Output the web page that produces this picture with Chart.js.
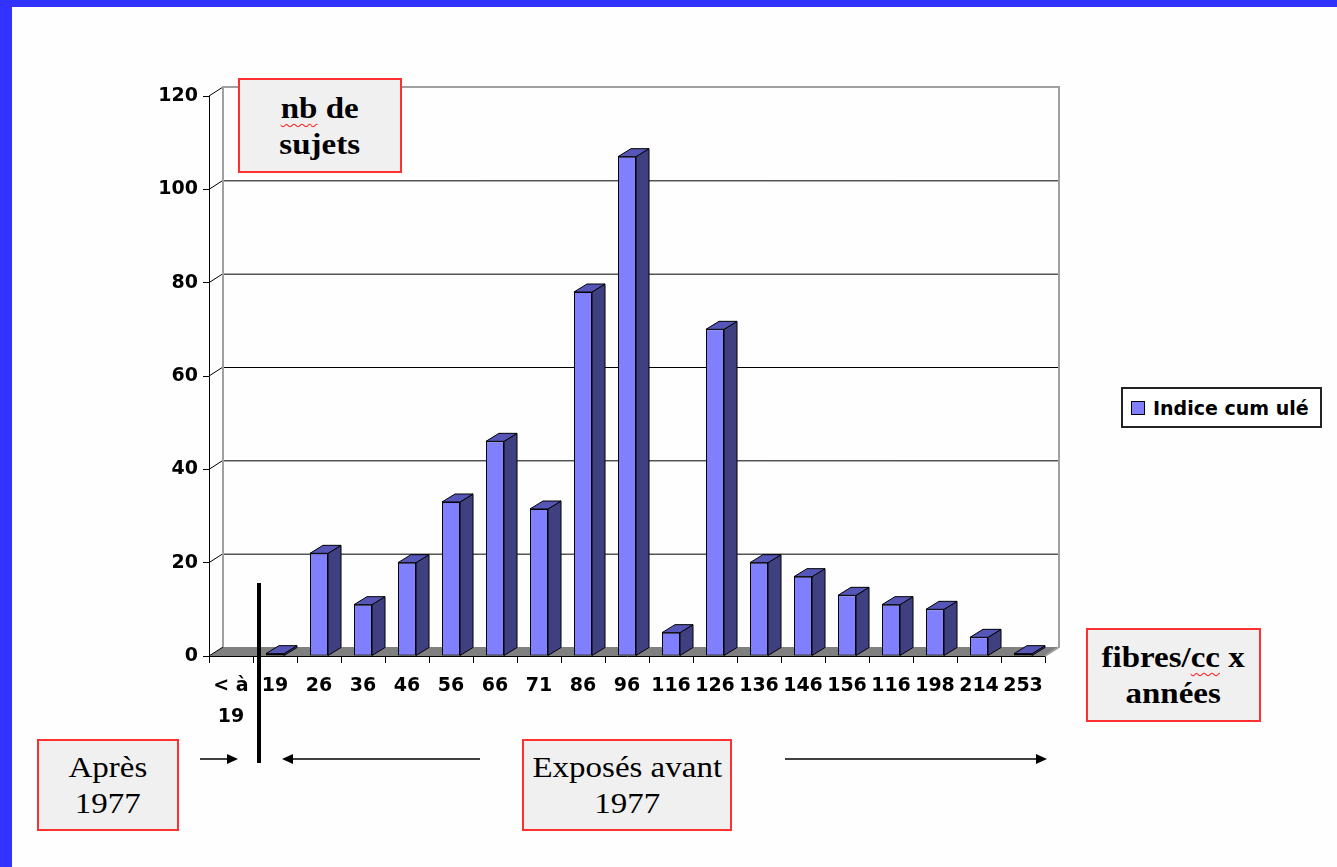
<!DOCTYPE html>
<html>
<head>
<meta charset="utf-8">
<script src="https://cdn.jsdelivr.net/npm/chart.js@4.4.0/dist/chart.umd.min.js"></script>
<style>
  body { margin: 0; background: #fefefe; }
  #wrap { position: relative; width: 1337px; height: 867px; overflow: hidden; background: #fefefe; }
  #wrap canvas { position: absolute; left: 0; top: 0; }
  .frame-top { position: absolute; left: 0; top: 0; width: 1337px; height: 7px; background: #3333ff; }
  .frame-left { position: absolute; left: 0; top: 0; width: 12px; height: 867px; background: #3333ff; }
  .note {
    position: absolute; box-sizing: border-box; background: #f0f0f0;
    border: 2px solid #ff3030; color: #000;
    font-family: "Liberation Serif", serif; font-size: 30px; line-height: 36px;
    display: flex; align-items: center; justify-content: center; text-align: center;
  }
  .note span { display: inline-block; transform: scaleX(1.1); }
  .bold { font-weight: bold; }
  .spell { text-decoration: underline wavy #ff2020; text-decoration-thickness: 1px; text-underline-offset: 5px; }
  #legend {
    position: absolute; left: 1121px; top: 387px; width: 201px; height: 41px; box-sizing: border-box;
    border: 2px solid #222; background: #fff; display: flex; align-items: center; padding-left: 8px;
    font-family: "DejaVu Sans", sans-serif; font-weight: bold; font-size: 19px; color: #000;
  }
  #legend i { display: inline-block; width: 12px; height: 12px; background: #8080ff; border: 1px solid #000; margin-right: 8px; }
</style>
</head>
<body>
<div id="wrap">
  <canvas id="histo" width="1337" height="867"></canvas>
  <div class="frame-top"></div>
  <div class="frame-left"></div>
  <div class="note bold" style="left:238px; top:78px; width:164px; height:95px;"><span><u class="spell">nb</u> de<br>sujets</span></div>
  <div class="note bold" style="left:1086px; top:628px; width:175px; height:94px;"><span>fibres/<u class="spell">cc</u> x<br>années</span></div>
  <div class="note" style="left:37px; top:739px; width:142px; height:92px;"><span>Après<br>1977</span></div>
  <div class="note" style="left:522px; top:739px; width:210px; height:92px;"><span>Exposés avant<br>1977</span></div>
  <div id="legend"><i></i><span id="legendText"></span></div>
</div>
<script>
const categories = [['< à', '19'], '19', '26', '36', '46', '56', '66', '71', '86', '96',
  '116', '126', '136', '146', '156', '116', '198', '214', '253'];
const values = [null, 0.5, 22, 11, 20, 33, 46, 31.5, 78, 107, 5, 70, 20, 17, 13, 11, 10, 4, 0.5];
const seriesName = 'Indice cum ulé';
const yTicks = [0, 20, 40, 60, 80, 100, 120];

const WALL_DX = 14, WALL_DY = 9;
const BAR_DX = 13, BAR_DY = 8;
const tickFont = { family: 'DejaVu Sans', size: 19, weight: 'bold' };

// fake 3d: back wall, floor, and side/top faces of the columns
const depth = {
  id: 'depth',
  beforeDatasetsDraw(chart) {
    const { ctx, chartArea: a, scales: { y } } = chart;
    ctx.save();
    ctx.fillStyle = '#808080';
    ctx.beginPath();
    ctx.moveTo(a.left, a.bottom);
    ctx.lineTo(a.left + WALL_DX, a.bottom - WALL_DY);
    ctx.lineTo(a.right + WALL_DX, a.bottom - WALL_DY);
    ctx.lineTo(a.right, a.bottom);
    ctx.closePath();
    ctx.fill();

    ctx.lineWidth = 1;
    yTicks.forEach(v => {
      const py = y.getPixelForValue(v);
      ctx.strokeStyle = '#000';
      ctx.beginPath();
      ctx.moveTo(a.left, py);
      ctx.lineTo(a.left + WALL_DX, py - WALL_DY);
      ctx.stroke();
      if (v > 0 && v < 120) {
        ctx.beginPath();
        ctx.moveTo(a.left + WALL_DX, py - WALL_DY + 0.5);
        ctx.lineTo(a.right + WALL_DX, py - WALL_DY + 0.5);
        ctx.stroke();
      }
    });

    ctx.strokeStyle = '#a0a0a0';
    ctx.lineWidth = 2;
    ctx.beginPath();
    ctx.moveTo(a.left + WALL_DX, a.bottom - WALL_DY);
    ctx.lineTo(a.left + WALL_DX, a.top - WALL_DY);
    ctx.lineTo(a.right + WALL_DX, a.top - WALL_DY);
    ctx.lineTo(a.right + WALL_DX, a.bottom - WALL_DY);
    ctx.lineTo(a.right, a.bottom);
    ctx.stroke();
    ctx.restore();
  },
  afterDatasetsDraw(chart) {
    const { ctx } = chart;
    const meta = chart.getDatasetMeta(0);
    ctx.save();
    ctx.lineWidth = 1;
    ctx.strokeStyle = '#000';
    meta.data.forEach((bar, i) => {
      if (values[i] == null) return;
      const { x, y, base, width } = bar.getProps(['x', 'y', 'base', 'width'], true);
      const l = x - width / 2, r = x + width / 2;
      ctx.fillStyle = '#404080';
      ctx.beginPath();
      ctx.moveTo(r, y);
      ctx.lineTo(r + BAR_DX, y - BAR_DY);
      ctx.lineTo(r + BAR_DX, base - BAR_DY);
      ctx.lineTo(r, base);
      ctx.closePath();
      ctx.fill();
      ctx.stroke();
      ctx.fillStyle = '#5656b8';
      ctx.beginPath();
      ctx.moveTo(l, y);
      ctx.lineTo(l + BAR_DX, y - BAR_DY);
      ctx.lineTo(r + BAR_DX, y - BAR_DY);
      ctx.lineTo(r, y);
      ctx.closePath();
      ctx.fill();
      ctx.stroke();
    });
    ctx.restore();
  }
};

// the 1977 divider and arrows under the axis
const notes = {
  id: 'notes',
  afterDraw(chart) {
    const { ctx } = chart;
    ctx.save();
    ctx.strokeStyle = '#000';
    ctx.fillStyle = '#000';
    ctx.lineWidth = 4;
    ctx.beginPath();
    ctx.moveTo(259, 583);
    ctx.lineTo(259, 763);
    ctx.stroke();

    const arrow = (x1, x2, yy) => {
      const dir = Math.sign(x2 - x1);
      ctx.lineWidth = 1.5;
      ctx.beginPath();
      ctx.moveTo(x1, yy);
      ctx.lineTo(x2 - dir * 10, yy);
      ctx.stroke();
      ctx.beginPath();
      ctx.moveTo(x2, yy);
      ctx.lineTo(x2 - dir * 11, yy - 5);
      ctx.lineTo(x2 - dir * 11, yy + 5);
      ctx.closePath();
      ctx.fill();
    };
    arrow(200, 238, 759);
    arrow(480, 282, 759);
    arrow(785, 1047, 759);
    ctx.restore();
  }
};

document.getElementById('legendText').textContent = seriesName;

new Chart(document.getElementById('histo'), {
  type: 'bar',
  data: {
    labels: categories,
    datasets: [{
      label: seriesName,
      data: values,
      backgroundColor: '#8080ff',
      borderColor: '#000',
      borderWidth: 1,
      borderSkipped: false,
      categoryPercentage: 1,
      barPercentage: 0.41
    }]
  },
  options: {
    responsive: false,
    animation: false,
    layout: { padding: { left: 0, top: 96, right: 292, bottom: 0 } },
    plugins: {
      legend: { display: false },
      tooltip: { enabled: false }
    },
    scales: {
      x: {
        grid: { drawOnChartArea: false, color: '#000', tickLength: 7 },
        border: { display: true, color: '#000', width: 1 },
        ticks: { color: '#000', font: { ...tickFont, lineHeight: 1.65 }, padding: 7, maxRotation: 0, autoSkip: false },
        afterFit(scale) { scale.height = 211; }
      },
      y: {
        min: 0,
        max: 120,
        grid: { drawOnChartArea: false, color: '#000', tickLength: 6 },
        border: { display: true, color: '#000', width: 1 },
        ticks: { stepSize: 20, color: '#000', font: tickFont, padding: 5 },
        afterFit(scale) { scale.width = 209; }
      }
    }
  },
  plugins: [depth, notes]
});
</script>
</body>
</html>
